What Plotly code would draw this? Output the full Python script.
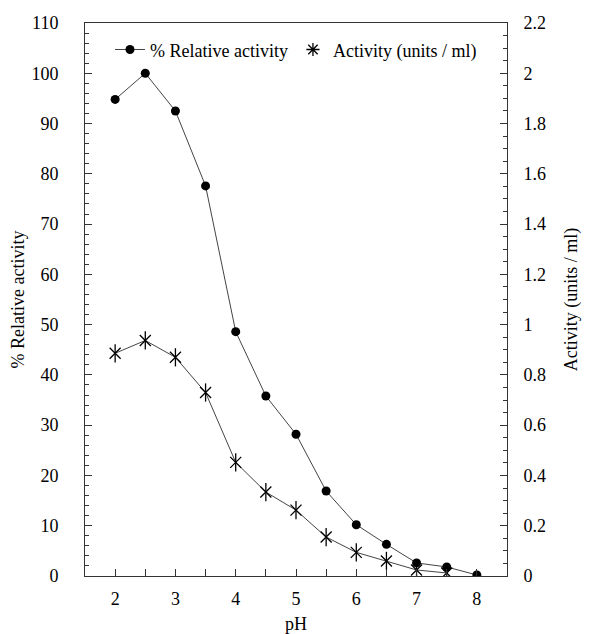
import plotly.graph_objects as go

ph = [2, 2.5, 3, 3.5, 4, 4.5, 5, 5.5, 6, 6.5, 7, 7.5, 8]
relative_activity = [94.8, 100, 92.5, 77.6, 48.6, 35.8, 28.2, 16.9, 10.2, 6.3, 2.6, 1.8, 0.2]
ph_act = [2, 2.5, 3, 3.5, 4, 4.5, 5, 5.5, 6, 6.5, 7, 7.5]
activity = [0.886, 0.937, 0.87, 0.73, 0.452, 0.334, 0.262, 0.155, 0.094, 0.06, 0.024, 0.012]

FONT = "Liberation Serif"
FS = 18
LINE = "#444"

fig = go.Figure()
fig.add_trace(go.Scatter(
    x=ph, y=relative_activity, mode="lines+markers", name="% Relative activity",
    line=dict(color=LINE, width=1),
    marker=dict(symbol="circle", size=9, color="black"),
    yaxis="y"))
fig.add_trace(go.Scatter(
    x=ph_act, y=activity, mode="lines+markers", showlegend=False,
    line=dict(color=LINE, width=1),
    marker=dict(symbol="x-thin-open", size=11, color="black", line=dict(color="black", width=1.3)),
    yaxis="y2"))
fig.add_trace(go.Scatter(
    x=ph_act, y=activity, mode="markers", showlegend=False,
    marker=dict(symbol="line-ns-open", size=13, color="black", line=dict(color="black", width=1.3)),
    yaxis="y2"))
fig.add_trace(go.Scatter(
    x=[None], y=[None], mode="markers", name="Activity (units / ml)",
    marker=dict(symbol="asterisk-open", size=11, color="black", line=dict(color="black", width=1.3)),
    yaxis="y2"))

axis_common = dict(
    showline=True, linecolor="#333", linewidth=1, ticks="inside", tickcolor="#333",
    ticklen=7, tickwidth=1, showgrid=False, zeroline=False, automargin=False,
    tickfont=dict(family=FONT, size=FS, color="black"),
)

fig.update_layout(
    width=594, height=634,
    margin=dict(l=85, r=87, t=23, b=58),
    paper_bgcolor="white", plot_bgcolor="white",
    font=dict(family=FONT, size=FS, color="black"),
    showlegend=True,
    legend=dict(orientation="h", x=0.5, xanchor="center", y=0.985, yanchor="top",
                font=dict(family=FONT, size=FS, color="black"),
                bgcolor="rgba(0,0,0,0)", itemwidth=30, tracegroupgap=0),
    xaxis=dict(range=[1.5, 8.5], dtick=1, tick0=0, mirror=True, ticklabelstandoff=6,
               minor=dict(dtick=0.5, ticks="inside", ticklen=7, tickcolor="#333"),
               title=dict(text="pH", font=dict(family=FONT, size=FS), standoff=12),
               **axis_common),
    yaxis=dict(range=[0, 110], dtick=10, tick0=0, ticklabelstandoff=22,
               minor=dict(dtick=2, ticks="inside", ticklen=4, tickcolor="#333"),
               title=dict(text="% Relative activity", font=dict(family=FONT, size=FS), standoff=2),
               **axis_common),
    yaxis2=dict(range=[0, 2.2], dtick=0.2, tick0=0, overlaying="y", side="right",
                ticklabelstandoff=12,
                minor=dict(dtick=0.05, ticks="inside", ticklen=4, tickcolor="#333"),
                title=dict(text="Activity (units / ml)", font=dict(family=FONT, size=FS), standoff=19),
                **axis_common),
)

fig.write_html("out.html")
